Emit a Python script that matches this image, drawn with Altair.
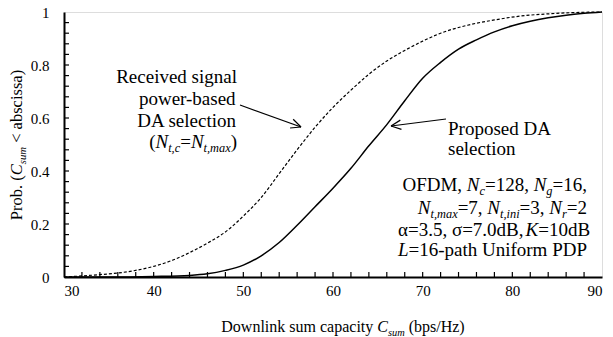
import math
import altair as alt
import pandas as pd

# ---------------- data ----------------
cap_rsp = [30, 32, 34, 36, 38, 40, 42, 44, 46, 48, 50, 52, 54, 56, 58, 60, 62, 64, 66, 68, 70, 72, 75, 78, 81, 84, 87, 90]
prob_rsp = [0.0, 0.004, 0.009, 0.015, 0.025, 0.04, 0.062, 0.092, 0.128, 0.17, 0.23, 0.3, 0.39, 0.48, 0.565, 0.64, 0.705, 0.765, 0.815, 0.855, 0.89, 0.92, 0.95, 0.97, 0.985, 0.993, 0.998, 1.0]

cap_prop = [30, 35, 40, 44, 46, 48, 50, 52, 54, 56, 58, 60, 62, 64, 66, 68, 70, 72, 74, 76, 78, 80, 82, 84, 86, 88, 90]
prob_prop = [0.0, 0.0, 0.002, 0.006, 0.012, 0.025, 0.045, 0.08, 0.13, 0.195, 0.265, 0.335, 0.41, 0.495, 0.575, 0.665, 0.75, 0.81, 0.86, 0.895, 0.925, 0.948, 0.965, 0.978, 0.988, 0.995, 1.0]

x_major = [30, 40, 50, 60, 70, 80, 90]
y_major = [0, 0.2, 0.4, 0.6, 0.8, 1.0]
x_minor = list(range(32, 90, 2))
y_minor = [round(0.04 * i, 2) for i in range(1, 25)]

# ---------------- layout helpers ----------------
X0, X1 = 30, 90
W, H = 538, 265
LEFT, TOP = 64, 12  # page position of the plot area
FONT = "Liberation Serif"


def dxp(px):
    return X0 + (px - LEFT) / W * (X1 - X0)


def dyp(py):
    return (TOP + H - py) / H


ROMAN = {' ': 250, '(': 333, ')': 333, ',': 250, '-': 333, '.': 250, '/': 278, '<': 564, '=': 564,
         'A': 722, 'C': 667, 'D': 722, 'F': 556, 'H': 722, 'K': 722, 'L': 611, 'M': 889, 'N': 722,
         'O': 722, 'P': 556, 'R': 667, 'U': 722,
         'a': 444, 'b': 500, 'c': 444, 'd': 500, 'e': 444, 'f': 333, 'g': 500, 'h': 500, 'i': 278,
         'k': 500, 'l': 278, 'm': 778, 'n': 500, 'o': 500, 'p': 500, 'r': 333, 's': 389, 't': 278,
         'u': 500, 'v': 500, 'w': 722, 'x': 500, 'y': 500, 'z': 444, 'α': 540, 'σ': 550}
for d in '0123456789':
    ROMAN[d] = 500
ITAL = {'C': 667, 'K': 667, 'L': 556, 'N': 667, 'a': 500, 'c': 444, 'e': 444, 'g': 500, 'i': 278,
        'm': 722, 'n': 500, 'r': 389, 's': 389, 't': 278, 'u': 500, 'x': 444, ',': 250}

rows = []


def measure(segs, fs):
    items = []
    for text, st in segs:
        f = fs * 0.65 if st == 'is' else fs
        tbl = ITAL if st.startswith('i') else ROMAN
        lead = len(text) - len(text.lstrip(' '))
        lw = lead * ROMAN[' '] / 1000 * f
        w = sum(tbl.get(c, 500) for c in text) / 1000 * f
        items.append((text.strip(' '), st, f, w, lw))
    return items


def add_line(segs, fs, anchor, base, align="left"):
    items = measure(segs, fs)
    total = sum(it[3] for it in items)
    if align == "right":
        start = anchor - total
    elif align == "center":
        start = anchor - total / 2
    else:
        start = anchor
    cur = start
    for text, st, f, w, lw in items:
        off = fs * 0.22 if st == 'is' else 0
        if text:
            rows.append(dict(x=dxp(cur + lw), y=dyp(base + off), t=text, fs=f,
                             key='i' if st.startswith('i') else 'n'))
        cur += w


def add_vline(segs, fs, center_y, base_x):
    items = measure(segs, fs)
    total = sum(it[3] for it in items)
    cur = 0
    ystart = center_y + total / 2
    for text, st, f, w, lw in items:
        off = fs * 0.22 if st == 'is' else 0
        if text:
            rows.append(dict(x=dxp(base_x + off), y=dyp(ystart - (cur + lw)), t=text, fs=f,
                             key=('i' if st.startswith('i') else 'n') + 'r'))
        cur += w


FS = 19
# left annotation (right aligned)
add_line([("Received signal", 'n')], FS, 237, 83, "right")
add_line([("power-based", 'n')], FS, 236, 105, "right")
add_line([("DA selection", 'n')], FS, 237, 127, "right")
add_line([("(", 'n'), ("N", 'i'), ("t,c", 'is'), ("=", 'n'), ("N", 'i'), ("t,max", 'is'), (")", 'n')],
         FS, 237, 148, "right")
# right annotation
add_line([("Proposed DA", 'n')], FS, 448, 135)
add_line([("selection", 'n')], FS, 448, 155)
# parameter block
add_line([("OFDM, ", 'n'), ("N", 'i'), ("c", 'is'), ("=128, ", 'n'), ("N", 'i'), ("g", 'is'), ("=16,", 'n')],
         FS, 587, 191, "right")
add_line([("N", 'i'), ("t,max", 'is'), ("=7, ", 'n'), ("N", 'i'), ("t,ini", 'is'), ("=3, ", 'n'),
          ("N", 'i'), ("r", 'is'), ("=2", 'n')], FS, 587, 214, "right")
add_line([("α=3.5, σ=7.0dB, ", 'n'), ("K", 'i'), ("=10dB", 'n')], FS, 587, 236, "right")
add_line([("L", 'i'), ("=16-path Uniform PDP", 'n')], FS, 587, 256, "right")
# x axis title
add_line([("Downlink sum capacity ", 'n'), ("C", 'i'), ("sum", 'is'), (" (bps/Hz)", 'n')],
         16, 343, 332, "center")
# y axis title (rotated, reading upward)
add_vline([("Prob. (", 'n'), ("C", 'i'), ("sum", 'is'), (" < abscissa)", 'n')], 16.5, 145, 22)

ann = pd.DataFrame(rows)

# arrows (page pixels -> data)
arrow_segs = []


def add_arrow(x0, y0, x1, y1, L=11, ang=25):
    arrow_segs.append((x0, y0, x1, y1))
    a = math.atan2(y0 - y1, x0 - x1)
    for s in (-1, 1):
        b = a + s * math.radians(ang)
        arrow_segs.append((x1, y1, x1 + L * math.cos(b), y1 + L * math.sin(b)))


add_arrow(240, 105, 301, 127)
add_arrow(446, 119, 391, 126)
arr = pd.DataFrame([dict(x=dxp(a), y=dyp(b), x2=dxp(c), y2=dyp(d)) for a, b, c, d in arrow_segs])

# ---------------- chart ----------------
xs = alt.Scale(domain=[X0, X1], nice=False, zero=False)
ys = alt.Scale(domain=[0, 1], nice=False, zero=False)

df_rsp = pd.DataFrame({"cap": cap_rsp, "prob": prob_rsp})
df_prop = pd.DataFrame({"cap": cap_prop, "prob": prob_prop})

xaxis = alt.Axis(values=x_major, title=None, ticks=False, tickSize=0, grid=False, format="d",
                 labelFont=FONT, labelFontSize=15, labelColor="black", labelPadding=6,
                 domainColor="black", domainWidth=2)
yaxis = alt.Axis(values=y_major, title=None, ticks=False, tickSize=0, grid=False, format="~g",
                 labelFont=FONT, labelFontSize=15, labelColor="black", labelPadding=15,
                 domainColor="black", domainWidth=2)

line_rsp = alt.Chart(df_rsp).mark_line(color="black", strokeWidth=1.2, strokeDash=[3, 2],
                                       interpolate="monotone").encode(
    x=alt.X("cap:Q", scale=xs, axis=xaxis),
    y=alt.Y("prob:Q", scale=ys, axis=yaxis),
)
line_prop = alt.Chart(df_prop).mark_line(color="black", strokeWidth=1.5,
                                         interpolate="monotone").encode(
    x=alt.X("cap:Q", scale=xs),
    y=alt.Y("prob:Q", scale=ys),
)

xt = alt.Chart(pd.DataFrame({"v": x_minor})).mark_rule(color="black", strokeWidth=1.2).encode(
    x=alt.X("v:Q", scale=xs), y=alt.value(H), y2=alt.value(H - 5))
yt = alt.Chart(pd.DataFrame({"v": y_minor})).mark_rule(color="black", strokeWidth=1.2).encode(
    y=alt.Y("v:Q", scale=ys), x=alt.value(0), x2=alt.value(5))

arrows = alt.Chart(arr).mark_rule(color="black", strokeWidth=1.2).encode(
    x=alt.X("x:Q", scale=xs), y=alt.Y("y:Q", scale=ys), x2="x2:Q", y2="y2:Q")

text_layers = []
for key, style, angle in [("n", "normal", 0), ("i", "italic", 0), ("nr", "normal", 270), ("ir", "italic", 270)]:
    text_layers.append(
        alt.Chart(ann).transform_filter(alt.datum.key == key).mark_text(
            font=FONT, fontStyle=style, align="left", baseline="alphabetic", angle=angle,
            color="black", clip=False).encode(
            x=alt.X("x:Q", scale=xs), y=alt.Y("y:Q", scale=ys), text="t:N",
            size=alt.Size("fs:Q", scale=None, legend=None))
    )

chart = alt.layer(line_rsp, line_prop, xt, yt, arrows, *text_layers).properties(
    width=W, height=H,
    autosize=alt.AutoSizeParams(type="none"),
    padding={"left": LEFT - 8, "top": TOP - 8, "right": 3, "bottom": 337 - TOP - H},
).configure_view(stroke="black", strokeWidth=1.5).configure(background="white", font=FONT)

chart.save("out.html", embed_options={"renderer": "svg", "actions": False})
